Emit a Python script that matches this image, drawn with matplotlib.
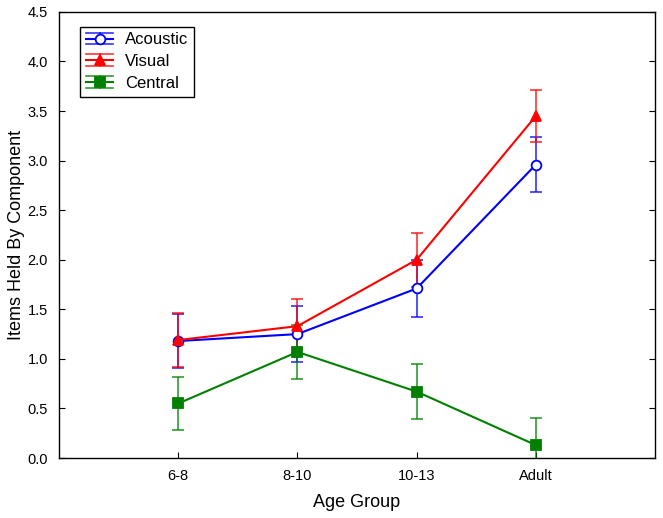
import numpy as np
import matplotlib.pyplot as plt
from matplotlib.legend_handler import HandlerBase
from matplotlib.lines import Line2D

plt.rcParams["font.family"] = ["Liberation Sans", "DejaVu Sans"]

groups = ["6-8", "8-10", "10-13", "Adult"]
acoustic = [1.18, 1.25, 1.71, 2.96]
acoustic_err = [0.27, 0.28, 0.29, 0.28]
visual = [1.19, 1.33, 2.00, 3.45]
visual_err = [0.27, 0.27, 0.27, 0.26]
central = [0.55, 1.07, 0.67, 0.13]
central_err = [0.27, 0.27, 0.28, 0.27]


class HandlerWideCaps(HandlerBase):
  # legend entry: line + marker with caps as long as the handle
  def create_artists(self, legend, orig, xd, yd, w, h, fontsize, trans):
    line, color, marker, mfc = orig
    y = h / 2 - yd
    dy = h * 0.5
    x0, x1 = -xd, -xd + w
    xm = (x0 + x1) / 2
    arts = [
      Line2D([x0, x1], [y + dy] * 2, color=color, lw=1.2, alpha=0.8),
      Line2D([x0, x1], [y - dy] * 2, color=color, lw=1.2, alpha=0.8),
      Line2D([xm, xm], [y - dy, y + dy], color=color, lw=1.2, alpha=0.8),
      Line2D([x0, x1], [y, y], color=color, lw=1.5),
      Line2D([xm], [y], marker=marker, color=color, mfc=mfc, ms=7, mew=1.3),
    ]
    for a in arts:
      a.set_transform(trans)
    return arts


fig = plt.figure(figsize=(6.63, 5.18), dpi=100)
ax = fig.add_axes([0.089, 0.1158, 0.899, 0.8612])

x = np.arange(1, len(groups) + 1)
series = [
  ("Acoustic", acoustic, acoustic_err, "#0000ff", "o", "white"),
  ("Visual", visual, visual_err, "#ff0000", "^", "#ff0000"),
  ("Central", central, central_err, "#008000", "s", "#008000"),
]

handles = []
for name, vals, errs, col, mk, mfc in series:
  ax.errorbar(x, vals, yerr=errs, fmt="none", ecolor=col, elinewidth=1.2,
      capsize=4.5, capthick=1.2, alpha=0.8, zorder=2)
  ax.plot(x, vals, color=col, lw=1.5, marker=mk, mfc=mfc, mec=col,
      ms=7, mew=1.3, zorder=3)
  handles.append((None, col, mk, mfc))

ax.set_xlim(0, 5)
ax.set_ylim(0, 4.5)
ax.set_xticks(x, labels=groups)
ax.set_yticks(np.arange(0, 4.51, 0.5))
ax.yaxis.set_major_formatter(plt.FuncFormatter(lambda v, p: f"{v:.1f}"))
ax.tick_params(direction="in", length=4, labelsize=10.5, top=False,
    right=True, pad=8)
for s in ax.spines.values():
  s.set_linewidth(1.0)

ax.set_xlabel("Age Group", fontsize=13, labelpad=8)
ax.set_ylabel("Items Held By Component", fontsize=13, labelpad=2)

leg = ax.legend(handles, [s[0] for s in series], loc="upper left",
    bbox_to_anchor=(0.036, 0.967), handler_map={tuple: HandlerWideCaps()},
    fontsize=12, fancybox=False, edgecolor="black", framealpha=1,
    handlelength=1.6, handletextpad=0.7, labelspacing=0.4, borderpad=0.35,
    borderaxespad=0)
leg.get_frame().set_linewidth(1.0)

fig.savefig("out.png", dpi=100)
